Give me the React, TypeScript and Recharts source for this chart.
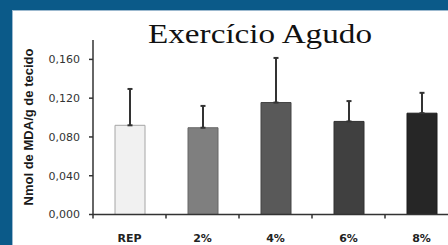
import { BarChart, Bar, XAxis, YAxis, Cell, ErrorBar } from 'recharts';

const categories = ['REP', '2%', '4%', '6%', '8%'];
const means = [0.092, 0.0895, 0.1155, 0.096, 0.1045];
const sdUpper = [0.0375, 0.0225, 0.046, 0.021, 0.021];
const barColors = ['#f1f1f1', '#7f7f7f', '#595959', '#404040', '#262626'];
const barStrokes = ['#a6a6a6', '#666666', '#444444', '#303030', '#1c1c1c'];
const yTicks = [0, 0.04, 0.08, 0.12, 0.16];

const data = categories.map((name, i) => ({
  name,
  value: means[i],
  err: [0, sdUpper[i]]
}));

const fmt = (v: number) => v.toFixed(3).replace('.', ',');

const CategoryTick = (props: any) => {
  const { x, y, payload } = props;
  const half = payload && payload.offset ? payload.offset : 36.5;
  return (
    <g>
      <line x1={x - half} y1={y} x2={x - half} y2={y + 4} stroke='#333' strokeWidth={1.5} />
      <text
        x={x}
        y={y + 27}
        textAnchor='middle'
        fontFamily='DejaVu Sans'
        fontWeight='bold'
        fontSize={11}
        fill='#222'
      >
        {payload.value}
      </text>
    </g>
  );
};

const YTitle = () => (
  <text
    x={33}
    y={127}
    transform='rotate(-90 33 127)'
    textAnchor='middle'
    fontFamily='Liberation Sans'
    fontWeight='bold'
    fontSize={12}
    textLength={157}
    lengthAdjust='spacingAndGlyphs'
    fill='#1a1a1a'
  >
    Nmol de MDA/g de tecido
  </text>
);

export default function App() {
  return (
    <div
      style={{
        position: 'fixed',
        left: 0,
        top: 0,
        width: 448,
        height: 245,
        overflow: 'hidden',
        background: '#0b5a89'
      }}
    >
      <div
        style={{
          position: 'absolute',
          left: 12,
          top: 10,
          width: 450,
          height: 250,
          background: '#fff',
          borderTop: '1px solid #9cb9cf',
          borderLeft: '1px solid #9cb9cf',
          boxSizing: 'border-box'
        }}
      />
      <svg style={{ position: 'absolute', left: 0, top: 0 }} width={448} height={50}>
        <text
          x={260}
          y={43}
          textAnchor='middle'
          fontFamily='Liberation Serif'
          fontSize={27}
          textLength={224}
          lengthAdjust='spacingAndGlyphs'
          fill='#111'
        >
          Exercício Agudo
        </text>
      </svg>
      <div style={{ position: 'absolute', left: 0, top: 0 }}>
        <BarChart
          width={470}
          height={245}
          data={data}
          margin={{ top: 40, right: 12, bottom: 0, left: 0 }}
          barSize={30}
        >
          <XAxis
            dataKey='name'
            axisLine={{ stroke: '#333', strokeWidth: 1.5 }}
            tickLine={false}
            tickSize={0}
            tickMargin={0}
            tick={<CategoryTick />}
            interval={0}
            height={30.5}
          />
          <YAxis
            width={93}
            domain={[0, 0.18]}
            ticks={yTicks}
            tickFormatter={fmt}
            axisLine={{ stroke: '#333', strokeWidth: 1.5 }}
            tickLine={{ stroke: '#333', strokeWidth: 1.5 }}
            tickSize={4}
            tickMargin={9}
            tick={{ fontFamily: 'DejaVu Sans', fontSize: 11, fill: '#333' }}
            allowDataOverflow
            label={{ content: () => <YTitle /> }}
          />
          <Bar dataKey='value' isAnimationActive={false} strokeWidth={1}>
            {data.map((d, i) => (
              <Cell key={d.name} fill={barColors[i]} stroke={barStrokes[i]} />
            ))}
            <ErrorBar
              dataKey='err'
              width={2.5}
              stroke='#333'
              strokeWidth={2}
              direction='y'
              isAnimationActive={false}
            />
          </Bar>
        </BarChart>
      </div>
    </div>
  );
}
